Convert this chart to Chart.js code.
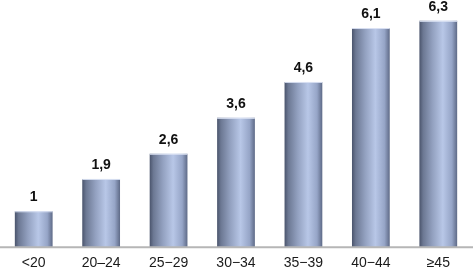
<!DOCTYPE html>
<html>
<head>
<meta charset="utf-8">
<script src="https://cdn.jsdelivr.net/npm/chart.js@4"></script>
<style>
  html, body { margin: 0; padding: 0; background: #fff; }
  #wrap { width: 473px; height: 270px; position: relative; }
</style>
</head>
<body>
<div id="wrap"><canvas id="ageChart"></canvas></div>
<script>
const categories = ['<20', '20–24', '25−29', '30−34', '35−39', '40−44', '≥45'];
const values = [1, 1.9, 2.6, 3.6, 4.6, 6.1, 6.3];
const valueLabels = ['1', '1,9', '2,6', '3,6', '4,6', '6,1', '6,3'];

const barFraction = 0.56;

// cylinder-ish horizontal shading for each bar
function barGradient(context) {
    const chart = context.chart;
    const xScale = chart.scales.x;
    if (!chart.chartArea || !xScale || !xScale.width) return '#8f9fc0';
    const cx = xScale.getPixelForValue(context.dataIndex);
    const w = xScale.width / categories.length * barFraction;
    const g = chart.ctx.createLinearGradient(cx - w / 2, 0, cx + w / 2, 0);
    g.addColorStop(0, '#4a546c');
    g.addColorStop(0.1, '#6c7893');
    g.addColorStop(0.35, '#93a1c0');
    g.addColorStop(0.62, '#b8c7e7');
    g.addColorStop(0.86, '#96a5c7');
    g.addColorStop(1, '#5e6a87');
    return g;
}

const valueLabelPlugin = {
    id: 'valueLabels',
    afterDatasetsDraw(chart) {
        const ctx = chart.ctx;
        const meta = chart.getDatasetMeta(0);
        const area = chart.chartArea;
        const y0 = chart.scales.y.getPixelForValue(0);
        ctx.save();
        // baseline axis
        ctx.strokeStyle = '#b6b6b6';
        ctx.lineWidth = 2;
        ctx.beginPath();
        ctx.moveTo(area.left, y0);
        ctx.lineTo(area.right + 1, y0);
        ctx.stroke();

        ctx.font = 'bold 14px "Liberation Sans", Arial, sans-serif';
        ctx.textAlign = 'center';
        ctx.textBaseline = 'alphabetic';
        meta.data.forEach(function(bar, i) {
            // thin light rim on top of each bar
            ctx.fillStyle = 'rgba(220,228,244,0.95)';
            ctx.fillRect(bar.x - bar.width / 2, bar.y, bar.width, 1);
            ctx.fillStyle = '#111';
            ctx.fillText(valueLabels[i], bar.x, bar.y - 10);
        });
        ctx.restore();
    }
};

const canvas = document.getElementById('ageChart');
new Chart(canvas.getContext('2d'), {
    type: 'bar',
    data: {
        labels: categories,
        datasets: [{
            data: values,
            backgroundColor: barGradient,
            borderWidth: 0,
            barPercentage: barFraction,
            categoryPercentage: 1
        }]
    },
    options: {
        responsive: true,
        maintainAspectRatio: false,
        animation: false,
        layout: { padding: { left: 0, right: 1, top: 0, bottom: -10 } },
        plugins: {
            legend: { display: false },
            tooltip: { enabled: false }
        },
        scales: {
            x: {
                grid: { display: false, drawTicks: false },
                border: { display: false },
                ticks: {
                    color: '#1a1a1a',
                    padding: 8,
                    maxRotation: 0,
                    font: { family: '"Liberation Sans", Arial, sans-serif', size: 14 }
                }
            },
            y: {
                display: false,
                min: 0,
                max: 6.88
            }
        }
    },
    plugins: [valueLabelPlugin]
});
</script>
</body>
</html>
